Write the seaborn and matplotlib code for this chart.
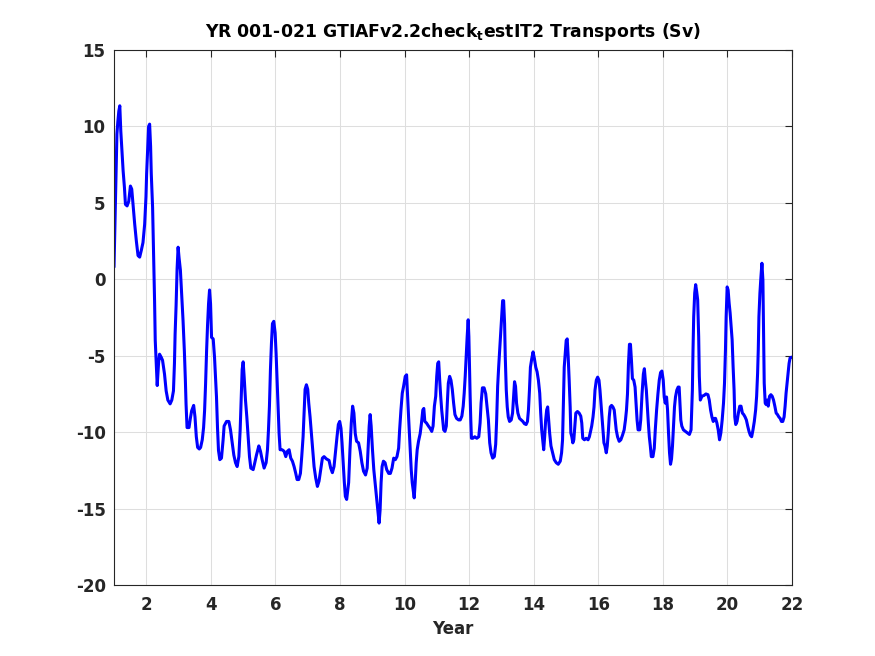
import matplotlib
matplotlib.use("Agg")
import matplotlib.pyplot as plt
import seaborn as sns
import pandas as pd

# ---- data ----
years_a = [1.0, 1.03, 1.06, 1.09, 1.118, 1.149, 1.179, 1.21, 1.251, 1.282, 1.323, 1.354, 1.405, 1.456,
           1.508, 1.549, 1.59, 1.641, 1.692, 1.744, 1.795, 1.846, 1.897, 1.949, 1.99, 2.01, 2.041, 2.072,
           2.103, 2.133, 2.154, 2.195, 2.226, 2.256, 2.277, 2.308, 2.338, 2.379, 2.41, 2.462, 2.503, 2.564,
           2.615, 2.667, 2.738, 2.79, 2.841, 2.872, 2.892, 2.923, 2.954, 2.985, 3.015, 3.056, 3.097, 3.138,
           3.179, 3.21, 3.231, 3.262, 3.323, 3.364, 3.405, 3.467, 3.508, 3.549, 3.59, 3.641, 3.682, 3.733,
           3.774, 3.805, 3.836, 3.867, 3.897, 3.928, 3.959, 3.99, 4.021, 4.072, 4.113, 4.144, 4.174, 4.205,
           4.236, 4.277, 4.328, 4.379, 4.41]
sv_a = [0.8, 3.6, 6.5, 9.5, 10.3, 11.0, 11.35, 9.7, 8.2, 7.1, 6.0, 4.9, 4.8, 5.1,
        6.1, 5.9, 4.9, 3.6, 2.5, 1.55, 1.45, 1.9, 2.4, 3.6, 5.4, 6.9, 8.4, 10.0,
        10.15, 8.7, 6.9, 4.7, 1.65, -1.4, -4.0, -5.5, -6.95, -5.5, -4.9, -5.1, -5.3, -6.2,
        -7.3, -7.9, -8.15, -7.9, -7.3, -5.5, -3.6, -1.7, 0.7, 2.1, 1.4, 0.6, -1.0, -2.7,
        -4.7, -6.6, -8.15, -9.7, -9.7, -9.1, -8.6, -8.25, -9.0, -10.3, -11.0, -11.1, -11.0, -10.5,
        -9.7, -8.6, -6.85, -4.7, -3.0, -1.6, -0.7, -1.6, -3.8, -3.9, -5.1, -6.4, -7.7, -9.7,
        -11.2, -11.8, -11.7, -10.5, -9.6]

years_b = [4.485, 4.557, 4.608, 4.66, 4.711, 4.763, 4.814, 4.866, 4.907, 4.938, 4.969, 5.0, 5.031, 5.072,
           5.113, 5.155, 5.196, 5.237, 5.31, 5.36, 5.412, 5.485, 5.536, 5.588, 5.649, 5.711, 5.753, 5.784,
           5.814, 5.845, 5.876, 5.907, 5.948, 5.99, 6.02, 6.05, 6.082, 6.113, 6.144, 6.206, 6.268, 6.32,
           6.371, 6.423, 6.474, 6.526, 6.577, 6.629, 6.67, 6.722, 6.773, 6.814, 6.856, 6.887, 6.918, 6.959,
           7.0, 7.031, 7.072, 7.113, 7.155, 7.196, 7.247, 7.299, 7.35, 7.402, 7.454, 7.505, 7.577, 7.66,
           7.711, 7.763, 7.814, 7.866, 7.907, 7.948, 7.99, 8.03, 8.062, 8.103, 8.134, 8.165, 8.206]
sv_b = [-9.3, -9.3, -9.85, -10.7, -11.5, -12.0, -12.25, -11.6, -9.85, -7.9, -5.9, -5.4, -6.4, -7.9,
        -9.0, -10.3, -11.6, -12.35, -12.45, -12.0, -11.5, -10.9, -11.25, -11.8, -12.35, -12.0, -11.15, -9.85,
        -8.3, -5.9, -4.2, -2.9, -2.75, -3.5, -4.85, -6.6, -8.3, -10.1, -11.15, -11.15, -11.25, -11.6,
        -11.25, -11.15, -11.7, -11.9, -12.25, -12.7, -13.1, -13.1, -12.7, -11.6, -10.3, -8.75, -7.2, -6.9,
        -7.2, -8.1, -9.0, -10.1, -11.15, -12.25, -13.0, -13.55, -13.2, -12.45, -11.7, -11.6, -11.75, -11.85,
        -12.35, -12.65, -12.25, -11.15, -10.3, -9.5, -9.3, -9.75, -10.7, -12.25, -13.3, -14.2, -14.4]

years_c = [8.267, 8.308, 8.349, 8.39, 8.43, 8.472, 8.513, 8.574, 8.626, 8.677, 8.728, 8.79, 8.841, 8.872,
           8.903, 8.933, 8.964, 9.005, 9.046, 9.087, 9.128, 9.169, 9.21, 9.241, 9.272, 9.303, 9.344, 9.395,
           9.446, 9.508, 9.559, 9.61, 9.662, 9.713, 9.764, 9.815, 9.846, 9.887, 9.928, 9.969, 10.02, 10.062,
           10.092, 10.123, 10.164, 10.205, 10.236, 10.267, 10.297, 10.328, 10.359, 10.39, 10.431, 10.482,
           10.523, 10.564, 10.595, 10.626, 10.677, 10.738, 10.79, 10.841, 10.882, 10.923, 10.964, 10.995,
           11.026, 11.056, 11.087, 11.118, 11.149, 11.179, 11.21, 11.251, 11.292, 11.323, 11.354, 11.395,
           11.436, 11.477, 11.518, 11.559, 11.61, 11.672, 11.723, 11.774, 11.815, 11.846, 11.877, 11.908,
           11.938, 11.969, 11.99, 12.01, 12.03, 12.05, 12.07]
sv_c = [-13.3, -11.15, -9.4, -8.3, -8.75, -10.1, -10.6, -10.7, -11.25, -12.0, -12.55, -12.8, -12.35, -10.95,
        -9.6, -8.85, -9.6, -11.15, -12.45, -13.3, -14.2, -15.1, -15.95, -15.1, -13.3, -12.25, -11.9, -12.0,
        -12.45, -12.7, -12.7, -12.35, -11.7, -11.8, -11.6, -11.05, -9.85, -8.55, -7.45, -7.0, -6.35, -6.25,
        -7.65, -9.0, -10.7, -12.45, -13.3, -13.8, -14.3, -13.3, -12.0, -11.15, -10.6, -10.1,
        -9.4, -8.55, -8.45, -9.3, -9.4, -9.6, -9.75, -9.95, -9.6, -8.3, -7.65, -6.35,
        -5.5, -5.4, -6.6, -7.65, -8.55, -9.2, -9.85, -9.95, -9.6, -8.1, -6.8, -6.35,
        -6.6, -7.2, -8.1, -8.85, -9.1, -9.2, -9.2, -8.95, -8.3, -7.45, -6.35, -5.05,
        -3.75, -2.65, -3.75, -5.7, -7.65, -9.2, -10.4]

years_d = [12.113, 12.174, 12.236, 12.297, 12.338, 12.369, 12.41, 12.462, 12.513, 12.554, 12.595, 12.636,
           12.677, 12.728, 12.779, 12.821, 12.851, 12.882, 12.913, 12.944, 12.974, 13.005, 13.036, 13.067,
           13.097, 13.118, 13.149, 13.179, 13.21, 13.251, 13.303, 13.344, 13.374, 13.405, 13.436, 13.467,
           13.508, 13.559, 13.61, 13.662, 13.713, 13.764, 13.805, 13.836, 13.867, 13.897, 13.938, 13.979,
           14.021, 14.062, 14.103, 14.144, 14.185, 14.215, 14.246, 14.277, 14.308, 14.338, 14.369, 14.4,
           14.431, 14.462, 14.492, 14.533, 14.585, 14.636, 14.697, 14.759, 14.821, 14.862, 14.892, 14.913,
           14.944, 14.974, 15.005, 15.036, 15.067, 15.097, 15.128, 15.149, 15.179, 15.21, 15.241, 15.272,
           15.303, 15.354, 15.405, 15.456, 15.487, 15.518, 15.569, 15.621, 15.682, 15.723]
sv_d = [-10.4, -10.3, -10.4, -10.3, -9.4, -8.1, -7.1, -7.1, -7.5, -8.35, -9.2, -10.7,
        -11.35, -11.7, -11.6, -10.8, -9.2, -7.0, -5.75, -4.65, -3.6, -2.5, -1.4, -1.4,
        -2.9, -5.1, -7.25, -8.35, -9.0, -9.3, -9.2, -8.75, -7.7, -6.7, -7.0, -8.1,
        -8.75, -9.1, -9.2, -9.3, -9.45, -9.5, -9.3, -8.55, -7.25, -5.75, -5.2, -4.75,
        -5.2, -5.75, -6.05, -6.6, -7.45, -8.75, -9.85, -10.5, -11.15, -10.3, -9.2, -8.55,
        -8.35, -9.2, -10.05, -10.9, -11.35, -11.8, -12.0, -12.1, -11.9, -11.35, -10.5, -8.55,
        -5.75, -4.85, -4.0, -3.9, -5.1, -6.6, -8.35, -10.05, -10.3, -10.7, -10.5, -9.6,
        -8.75, -8.65, -8.75, -8.95, -9.4, -10.4, -10.5, -10.4, -10.5, -10.3]

years_e = [15.795, 15.836, 15.867, 15.897, 15.938, 15.979, 16.02, 16.051, 16.082, 16.113, 16.144, 16.174,
           16.205, 16.246, 16.277, 16.308, 16.338, 16.369, 16.41, 16.451, 16.492, 16.523, 16.554, 16.595,
           16.646, 16.697, 16.749, 16.8, 16.841, 16.872, 16.903, 16.933, 16.964, 16.995, 17.026, 17.056,
           17.097, 17.138, 17.169, 17.2, 17.231, 17.282, 17.313, 17.354, 17.395, 17.426, 17.456, 17.487,
           17.518, 17.549, 17.579, 17.61, 17.641, 17.692, 17.733, 17.764, 17.805, 17.846, 17.887, 17.928,
           17.969, 18.01, 18.041, 18.072, 18.113, 18.144, 18.174, 18.205, 18.236, 18.267, 18.297, 18.328,
           18.359, 18.39, 18.431, 18.472, 18.503, 18.523, 18.554, 18.585, 18.636, 18.697, 18.759, 18.821,
           18.872]
sv_e = [-9.6, -9.0, -8.35, -7.25, -6.6, -6.4, -6.6, -7.25, -8.1, -9.0, -9.85, -10.7,
        -10.9, -11.35, -10.9, -10.05, -9.0, -8.35, -8.25, -8.35, -8.55, -9.2, -9.85, -10.3,
        -10.6, -10.5, -10.2, -9.85, -9.2, -8.55, -7.5, -5.55, -4.25, -4.25, -5.3, -6.5,
        -6.6, -7.05, -8.1, -9.2, -9.85, -9.85, -9.2, -7.5, -6.2, -5.85, -6.6, -7.25,
        -8.35, -9.4, -10.3, -10.9, -11.6, -11.6, -11.05, -9.85, -8.55, -7.5, -6.6, -6.1,
        -6.0, -6.6, -7.7, -8.1, -7.7, -8.55, -10.05, -11.35, -12.1, -11.75, -10.9, -9.6,
        -8.35, -7.7, -7.25, -7.05, -7.05, -7.9, -9.2, -9.6, -9.85, -9.95, -10.05, -10.15,
        -9.85]

years_f = [18.892, 18.913, 18.933, 18.954, 18.985, 19.015, 19.046, 19.077, 19.108, 19.128, 19.159, 19.21,
           19.272, 19.333, 19.395, 19.436, 19.477, 19.518, 19.559, 19.6, 19.631, 19.672, 19.713, 19.754,
           19.795, 19.836, 19.877, 19.908, 19.938, 19.959, 19.99, 20.02, 20.051, 20.082, 20.113, 20.144,
           20.174, 20.205, 20.226, 20.256, 20.297, 20.338, 20.38, 20.42, 20.462, 20.503, 20.544, 20.585,
           20.626, 20.667, 20.708, 20.749, 20.79, 20.831, 20.872, 20.903, 20.933, 20.954, 20.974, 21.005,
           21.036, 21.067, 21.097, 21.118, 21.138, 21.169, 21.2, 21.231, 21.262, 21.303, 21.344, 21.385,
           21.426, 21.467, 21.508, 21.549, 21.59, 21.631, 21.672, 21.713, 21.754, 21.785, 21.815, 21.846,
           21.877, 21.908, 21.938, 21.979, 22.0]
sv_f = [-8.55, -7.25, -4.6, -2.45, -0.9, -0.35, -0.8, -1.35, -3.75, -6.35, -7.9, -7.65,
        -7.6, -7.5, -7.55, -7.9, -8.55, -9.0, -9.3, -9.1, -9.1, -9.4, -9.85, -10.5,
        -10.05, -9.2, -8.1, -6.8, -4.6, -2.45, -0.5, -0.7, -1.55, -2.2, -3.1, -3.95,
        -5.7, -7.25, -9.0, -9.5, -9.3, -8.75, -8.3, -8.3, -8.75, -8.85, -9.0, -9.2,
        -9.6, -9.95, -10.2, -10.3, -9.85, -9.3, -8.55, -7.65, -6.15, -4.6, -2.45, -0.9,
        0.15, 1.05, -0.05, -3.5, -6.8, -8.1, -8.2, -7.9, -8.3, -7.65, -7.55, -7.65,
        -7.9, -8.3, -8.75, -8.85, -9.0, -9.1, -9.3, -9.3, -9.0, -8.3, -7.45, -6.8,
        -6.15, -5.5, -5.15, -5.1, -5.1]

x_ticks = [2, 4, 6, 8, 10, 12, 14, 16, 18, 20, 22]
y_ticks = [-20, -15, -10, -5, 0, 5, 10, 15]
title_text = r"YR 001-021 GTIAFv2.2check$_\mathbf{t}$estIT2 Transports (Sv)"
x_label = "Year"

df = pd.DataFrame({
    "Year": years_a + years_b + years_c + years_d + years_e + years_f,
    "Transport": sv_a + sv_b + sv_c + sv_d + sv_e + sv_f,
})

sns.set_theme(style="white")
plt.rcParams["font.family"] = ["DejaVu Sans"]
plt.rcParams["mathtext.fontset"] = "dejavusans"
plt.rcParams["axes.unicode_minus"] = False

fig = plt.figure(figsize=(8.75, 6.56), dpi=100)
ax = fig.add_axes([0.1303, 0.1082, 0.7749, 0.8156])

sns.lineplot(data=df, x="Year", y="Transport", ax=ax, color="#0000ff",
             linewidth=2.2, sort=False, estimator=None)

ax.set_xlim(1, 22)
ax.set_ylim(-20, 15)
ax.set_xticks(x_ticks)
ax.set_yticks(y_ticks)
ax.grid(True, color="#dedede", linewidth=0.75)
ax.set_axisbelow(True)

dark = "#262626"
for s in ax.spines.values():
    s.set_visible(True)
    s.set_color(dark)
    s.set_linewidth(0.8)
ax.tick_params(direction="in", top=True, right=True, length=5, width=0.8,
               color=dark, labelcolor=dark, labelsize=12)
ax.tick_params(axis="x", pad=8)
ax.tick_params(axis="y", pad=6)
for lbl in ax.get_xticklabels() + ax.get_yticklabels():
    lbl.set_fontweight("bold")

ax.set_title(title_text, fontsize=12.4, fontweight="bold", color="black", pad=9)
ax.set_xlabel(x_label, fontsize=12, fontweight="bold", color=dark, labelpad=4)
ax.set_ylabel("")

fig.savefig("out.png", dpi=100, facecolor="white")
